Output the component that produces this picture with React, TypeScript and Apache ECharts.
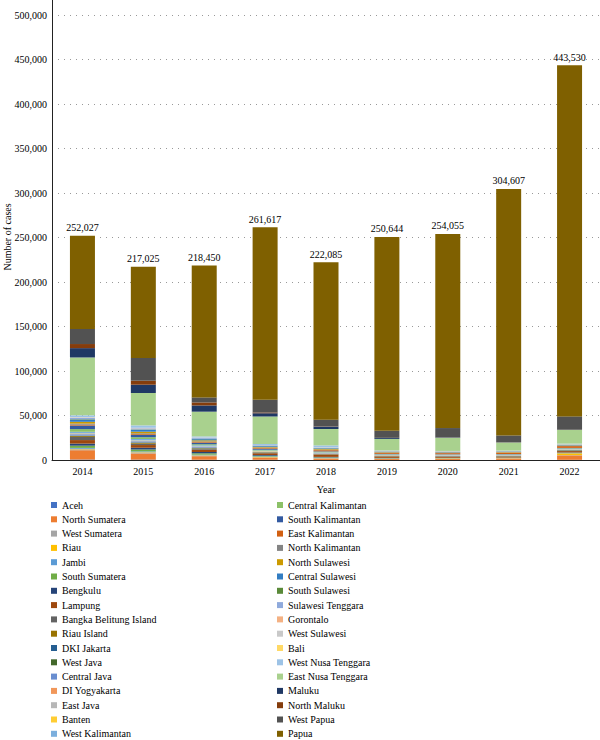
import React, { useEffect, useRef } from "react";
import * as echarts from "echarts";

const years = ["2014", "2015", "2016", "2017", "2018", "2019", "2020", "2021", "2022"];
const totals = [252027, 217025, 218450, 261617, 222085, 250644, 254055, 304607, 443530];

const provinces = [
  "Aceh", "North Sumatera", "West Sumatera", "Riau", "Jambi", "South Sumatera", "Bengkulu",
  "Lampung", "Bangka Belitung Island", "Riau Island", "DKI Jakarta", "West Java", "Central Java",
  "DI Yogyakarta", "East Java", "Banten", "West Kalimantan",
  "Central Kalimantan", "South Kalimantan", "East Kalimantan", "North Kalimantan", "North Sulawesi",
  "Central Sulawesi", "South Sulawesi", "Sulawesi Tenggara", "Gorontalo", "West Sulawesi", "Bali",
  "West Nusa Tenggara", "East Nusa Tenggara", "Maluku", "North Maluku", "West Papua", "Papua",
];

const colors = [
  "#4472C4", "#ED7D31", "#A5A5A5", "#FFC000", "#5B9BD5", "#70AD47", "#264478", "#9E480E",
  "#636363", "#997300", "#255E91", "#43682B", "#698ED0", "#F1975A", "#B7B7B7", "#FFCD33",
  "#7CAFDD", "#8CC168", "#335AA1", "#D26012", "#848484", "#CC9A00", "#327DC2", "#5A8A39",
  "#8FAADC", "#F4B183", "#C9C9C9", "#FFD966", "#9DC3E6", "#A9D18E", "#1F3864", "#843C0C",
  "#525252", "#7F6000",
];

// cases per province, one array per province, values for 2014..2022
const aceh = [500, 400, 300, 200, 100, 100, 100, 100, 200];
const northSumatera = [10500, 7000, 4000, 2500, 1500, 1000, 1200, 1500, 5000];
const westSumatera = [1000, 800, 600, 400, 300, 200, 200, 200, 300];
const riau = [600, 500, 400, 300, 200, 200, 300, 300, 2000];
const jambi = [1000, 900, 700, 500, 400, 300, 200, 200, 300];
const southSumatera = [2500, 2200, 1500, 800, 500, 300, 300, 300, 400];
const bengkulu = [2300, 2000, 1500, 800, 500, 300, 200, 200, 300];
const lampung = [4000, 3000, 2500, 2000, 2500, 1500, 1200, 1000, 1500];
const bangka = [3500, 1500, 800, 400, 300, 200, 200, 200, 300];
const riauIsland = [1000, 800, 600, 400, 300, 300, 200, 200, 300];
const dkiJakarta = [200, 200, 100, 100, 100, 100, 100, 100, 100];
const westJava = [300, 500, 400, 300, 200, 200, 200, 300, 400];
const centralJava = [1500, 1200, 1000, 600, 500, 300, 300, 300, 300];
const diYogyakarta = [100, 100, 100, 100, 100, 100, 100, 100, 100];
const eastJava = [1000, 800, 700, 500, 400, 400, 400, 400, 400];
const banten = [200, 200, 100, 100, 100, 100, 100, 100, 200];
const westKalimantan = [1500, 1500, 1200, 800, 600, 500, 500, 500, 600];
const centralKalimantan = [3000, 2000, 1200, 800, 700, 400, 400, 400, 500];
const southKalimantan = [4000, 2500, 1500, 700, 500, 300, 300, 300, 400];
const eastKalimantan = [1000, 900, 800, 1000, 1200, 1000, 1200, 1400, 2000];
const northKalimantan = [1200, 1000, 900, 700, 600, 500, 500, 500, 500];
const northSulawesi = [2000, 1800, 1200, 800, 700, 500, 400, 400, 300];
const centralSulawesi = [2500, 2000, 1300, 800, 700, 500, 400, 400, 400];
const southSulawesi = [500, 500, 400, 300, 300, 200, 200, 200, 300];
const sulawesiTenggara = [1500, 1200, 900, 600, 500, 300, 300, 300, 300];
const gorontalo = [200, 200, 100, 100, 100, 100, 100, 100, 100];
const westSulawesi = [500, 400, 300, 200, 200, 200, 200, 200, 200];
const bali = [100, 100, 100, 100, 100, 100, 100, 100, 100];
const westNusaTenggara = [2000, 2700, 1300, 1100, 2200, 500, 300, 300, 600];
const eastNusaTenggara = [65000, 36400, 27800, 31000, 18400, 13000, 14700, 9000, 15400];
const maluku = [10500, 9300, 7000, 3500, 2700, 1000, 400, 100, 100];
const northMaluku = [4600, 4500, 3400, 1000, 300, 200, 100, 100, 100];
const westPapua = [17000, 25500, 5600, 14300, 7500, 8000, 10500, 7800, 15000];
const papua = [104727, 102425, 148150, 193817, 176785, 217744, 218155, 277007, 394530];

const seriesValues = [
  aceh, northSumatera, westSumatera, riau, jambi, southSumatera, bengkulu, lampung, bangka,
  riauIsland, dkiJakarta, westJava, centralJava, diYogyakarta, eastJava, banten, westKalimantan,
  centralKalimantan, southKalimantan, eastKalimantan, northKalimantan, northSulawesi,
  centralSulawesi, southSulawesi, sulawesiTenggara, gorontalo, westSulawesi, bali,
  westNusaTenggara, eastNusaTenggara, maluku, northMaluku, westPapua, papua,
];

const yAxisTitle = "Number of cases";
const FONT = "Liberation Serif";

export default function App() {
  const ref = useRef<HTMLDivElement>(null);
  useEffect(() => {
    document.body.style.margin = "0";
    const chart = echarts.init(ref.current!, null, { renderer: "svg" });
    const series: any[] = provinces.map((name, i) => {
      const s: any = {
        name,
        type: "bar",
        stack: "total",
        barWidth: 25,
        data: seriesValues[i],
        itemStyle: { color: colors[i] },
        emphasis: { disabled: true },
      };
      if (i === provinces.length - 1) {
        s.label = {
          show: true,
          position: "top",
          distance: 3,
          fontFamily: FONT,
          fontSize: 10,
          color: "#000",
          formatter: (p: any) => totals[p.dataIndex].toLocaleString("en-US"),
        };
      }
      return s;
    });
    const legendBase = {
      orient: "vertical",
      top: 499,
      height: 245,
      padding: 0,
      itemWidth: 6,
      itemHeight: 6,
      itemGap: 2.3,
      icon: "rect",
      selectedMode: false,
      textStyle: { fontFamily: FONT, fontSize: 10, color: "#000", lineHeight: 12 },
    };
    chart.setOption({
      animation: false,
      textStyle: { fontFamily: FONT },
      grid: { left: 52, right: 0, top: 15, bottom: 280, outerBoundsMode: "none", containLabel: false },
      legend: [
        { ...legendBase, left: 51, data: provinces.slice(0, 17) },
        { ...legendBase, left: 277, data: provinces.slice(17) },
      ],
      xAxis: {
        type: "category",
        data: years,
        name: "Year",
        nameLocation: "middle",
        nameGap: 24,
        nameTextStyle: { fontFamily: FONT, fontSize: 10, color: "#000" },
        axisLine: { show: true, lineStyle: { color: "#222", width: 1 } },
        axisTick: { show: false },
        axisLabel: { fontFamily: FONT, fontSize: 10, color: "#000", margin: 6 },
      },
      yAxis: {
        type: "value",
        min: 0,
        max: 500000,
        interval: 50000,
        axisLine: { show: true, lineStyle: { color: "#222", width: 1 } },
        axisTick: { show: false },
        axisLabel: {
          fontFamily: FONT,
          fontSize: 10,
          color: "#000",
          margin: 5,
          formatter: (v: number) => v.toLocaleString("en-US"),
        },
        splitLine: { show: true, lineStyle: { color: "#999", width: 1, type: [1, 5] } },
      },
      graphic: [
        {
          type: "line",
          shape: { x1: 52.5, y1: 0, x2: 52.5, y2: 15 },
          style: { stroke: "#222", lineWidth: 1 },
        },
        {
          type: "text",
          x: 7,
          y: 237,
          rotation: Math.PI / 2,
          style: {
            text: yAxisTitle,
            font: `10px "${FONT}"`,
            fill: "#000",
            textAlign: "center",
            textVerticalAlign: "middle",
          },
        },
      ],
      series,
    });
    return () => chart.dispose();
  }, []);
  return <div ref={ref} style={{ width: 600, height: 740 }} />;
}
